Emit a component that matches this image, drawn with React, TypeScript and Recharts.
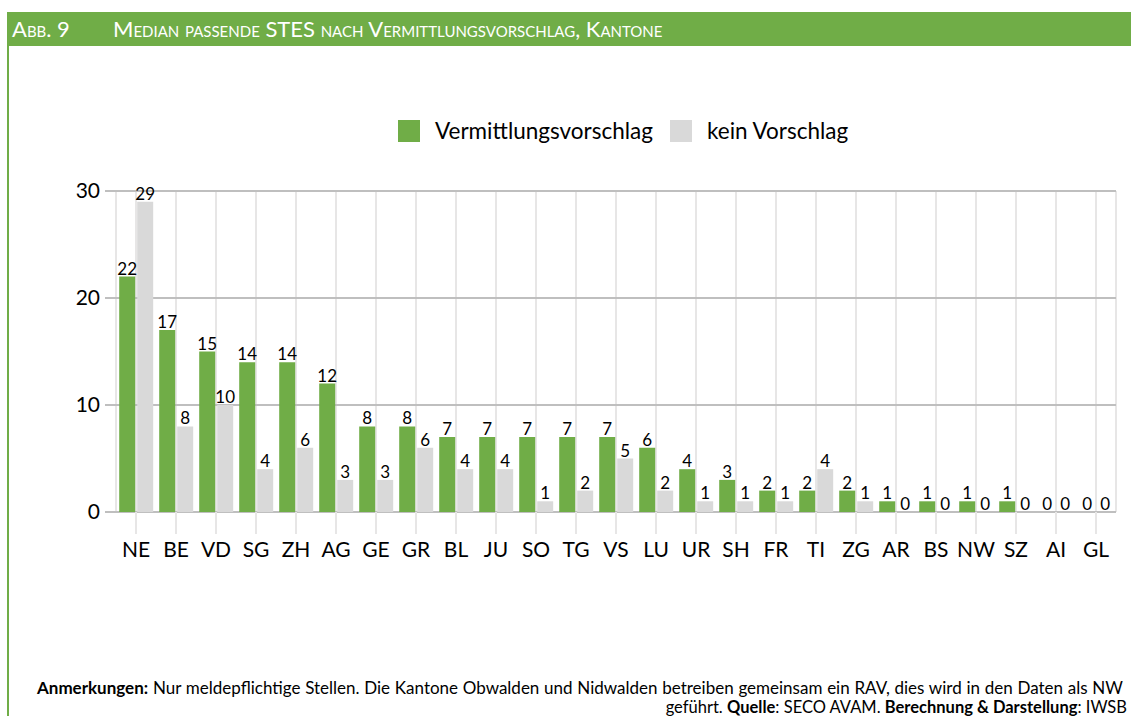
import React from "react";
import {
  Bar,
  BarChart,
  CartesianGrid,
  LabelList,
  Legend,
  XAxis,
  YAxis,
} from "recharts";

const cantons = [
  "NE", "BE", "VD", "SG", "ZH", "AG", "GE", "GR", "BL", "JU", "SO", "TG", "VS",
  "LU", "UR", "SH", "FR", "TI", "ZG", "AR", "BS", "NW", "SZ", "AI", "GL",
];

const withProposal = [
  22, 17, 15, 14, 14, 12, 8, 8, 7, 7, 7, 7, 7, 6, 4, 3, 2, 2, 2, 1, 1, 1, 1, 0, 0,
];

const withoutProposal = [
  29, 8, 10, 4, 6, 3, 3, 6, 4, 4, 1, 2, 5, 2, 1, 1, 1, 4, 1, 0, 0, 0, 0, 0, 0,
];

const yTicks = [0, 10, 20, 30];

const data = cantons.map((name, i) => ({
  name,
  vermittlung: withProposal[i],
  kein: withoutProposal[i],
}));

const GREEN = "#70AD47";
const GREY = "#D9D9D9";
const FONT = "Lato, 'Liberation Sans', sans-serif";

function renderLegend(props: any) {
  const { payload } = props;
  return (
    <div
      style={{
        display: "flex",
        alignItems: "flex-start",
        paddingLeft: 398,
        height: 0,
        overflow: "visible",
        fontFamily: FONT,
        fontSize: 22.5,
        color: "#000",
      }}
    >
      {payload.map((entry: any) => (
        <div
          key={entry.value}
          style={{ display: "flex", alignItems: "center", marginRight: 17 }}
        >
          <span
            style={{
              display: "inline-block",
              width: 22,
              height: 22,
              background: entry.color,
              marginRight: 15,
            }}
          />
          <span>{entry.value}</span>
        </div>
      ))}
    </div>
  );
}

// value labels, drawn also for zero-height bars
function valueLabel(props: any) {
  const { x, y, width, value } = props;
  return (
    <text
      x={Number(x) + Number(width) / 2}
      y={Number(y) - 2}
      textAnchor="middle"
      fill="#000"
      fontSize={17}
      fontFamily={FONT}
    >
      {value}
    </text>
  );
}

// keep zero bars in the layout so their "0" label is drawn
const tinyForZero = (value: any) => (Number(value) === 0 ? 0.01 : 0);

export default function App() {
  return (
    <div
      style={{
        position: "absolute",
        left: 0,
        top: 0,
        width: 1131,
        height: 716,
        background: "#fff",
        overflow: "hidden",
        fontFamily: FONT,
      }}
    >
      {/* header band */}
      <div
        style={{
          position: "absolute",
          left: 7,
          top: 12,
          width: 1124,
          height: 34,
          background: GREEN,
          color: "#fff",
          fontSize: 22,
          fontVariant: "small-caps",
          lineHeight: "34px",
          whiteSpace: "nowrap",
        }}
      >
        <span style={{ position: "absolute", left: 5 }}>Abb. 9</span>
        <span style={{ position: "absolute", left: 106 }}>
          Median passende STES nach Vermittlungsvorschlag, Kantone
        </span>
      </div>
      {/* left border */}
      <div
        style={{
          position: "absolute",
          left: 7,
          top: 46,
          width: 2,
          height: 670,
          background: GREEN,
        }}
      />

      <div style={{ position: "absolute", left: 0, top: 0 }}>
        <BarChart
          width={1131}
          height={580}
          data={data}
          margin={{ top: 191, right: 15, bottom: 0, left: 0 }}
          barCategoryGap="8%"
          barGap={2}
        >
          <CartesianGrid
            horizontal={false}
            stroke="#E7E6E6"
            strokeWidth={2}
          />
          <CartesianGrid vertical={false} stroke="#BFBFBF" strokeWidth={2} />
          <XAxis
            dataKey="name"
            axisLine={false}
            tickLine={{ stroke: "#E7E6E6", strokeWidth: 2 }}
            tickSize={22}
            tickMargin={8}
            height={68}
            interval={0}
            tick={{ fill: "#000", fontSize: 21, fontFamily: FONT }}
          />
          <YAxis
            domain={[0, 30]}
            ticks={yTicks}
            width={116}
            axisLine={false}
            tickLine={{ stroke: "#BFBFBF", strokeWidth: 2 }}
            tickSize={11}
            tickMargin={5}
            tick={{ fill: "#000", fontSize: 21, fontFamily: FONT }}
          />
          <Legend
            verticalAlign="top"
            content={renderLegend}
            wrapperStyle={{ top: 117, left: 0, width: 1131 }}
          />
          <Bar
            dataKey="vermittlung"
            name="Vermittlungsvorschlag"
            fill={GREEN}
            minPointSize={tinyForZero}
            isAnimationActive={false}
          >
            <LabelList dataKey="vermittlung" content={valueLabel} />
          </Bar>
          <Bar
            dataKey="kein"
            name="kein Vorschlag"
            fill={GREY}
            minPointSize={tinyForZero}
            isAnimationActive={false}
          >
            <LabelList dataKey="kein" content={valueLabel} />
          </Bar>
        </BarChart>
      </div>

      {/* notes */}
      <div
        style={{
          position: "absolute",
          left: 37,
          top: 677,
          fontSize: 17,
          wordSpacing: 0.4,
          color: "#000",
          whiteSpace: "nowrap",
        }}
      >
        <b>Anmerkungen:</b> Nur meldepflichtige Stellen. Die Kantone Obwalden und
        Nidwalden betreiben gemeinsam ein RAV, dies wird in den Daten als NW
      </div>
      <div
        style={{
          position: "absolute",
          right: 4,
          top: 697,
          fontSize: 16.5,
          color: "#000",
          whiteSpace: "nowrap",
        }}
      >
        geführt. <b>Quelle</b>: SECO AVAM. <b>Berechnung &amp; Darstellung</b>:
        IWSB
      </div>
    </div>
  );
}
